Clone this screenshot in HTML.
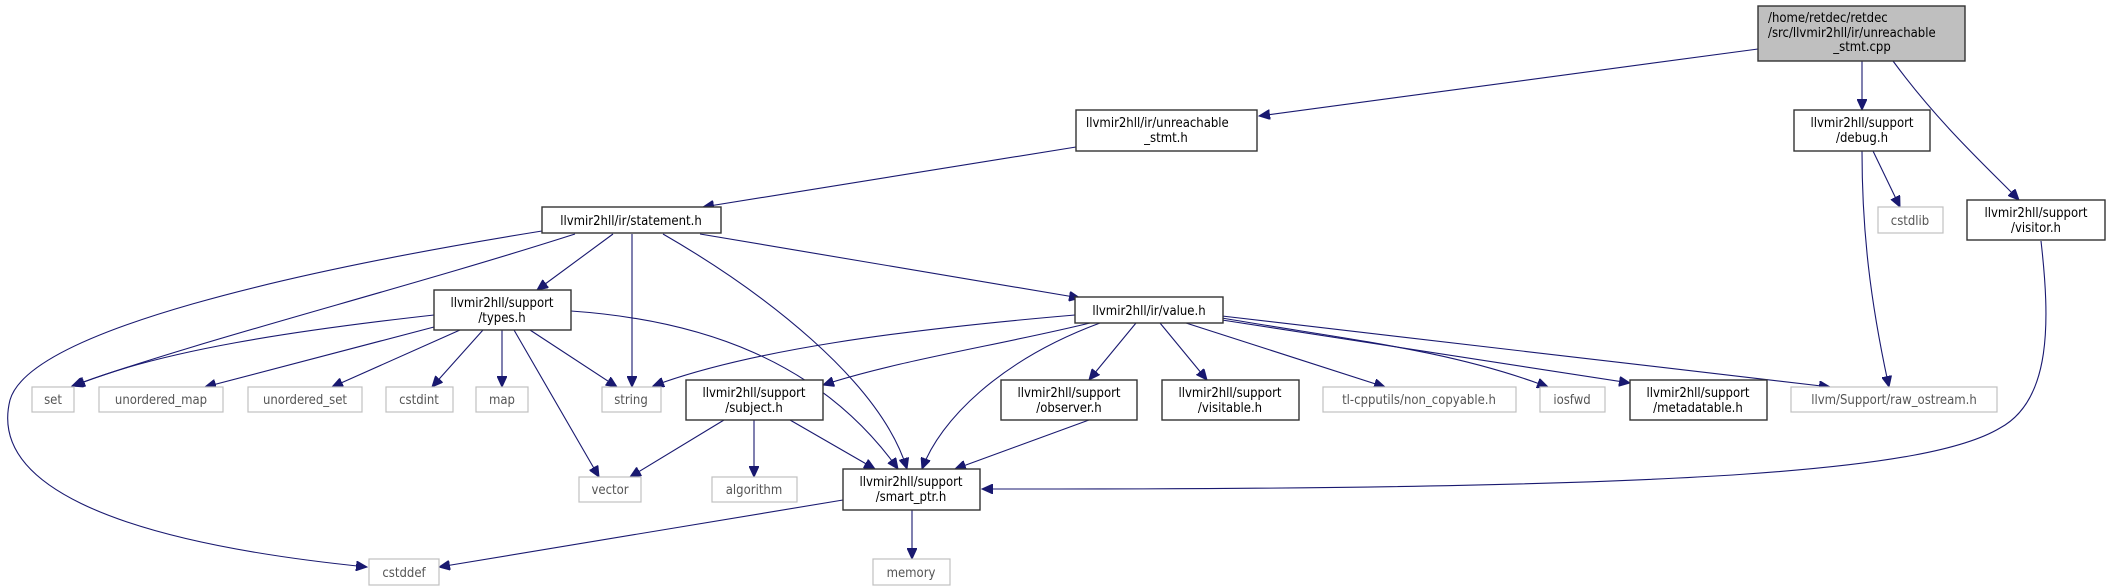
<!DOCTYPE html>
<html><head><meta charset="utf-8"><style>
html,body{margin:0;padding:0;background:#fff;}
svg{display:block;}
text{font-family:"DejaVu Sans Condensed","DejaVu Sans","Liberation Sans",sans-serif;font-size:13px;fill:#000;}
.lf text{fill:#555;}
.n{fill:#fff;stroke:#333;stroke-width:1.4;}
.g{fill:#fff;stroke:#c0c0c0;stroke-width:1.2;}
.e{fill:none;stroke:#191970;stroke-width:1.1;marker-end:url(#a);}
</style></head><body>
<svg width="2110" height="588" viewBox="0 0 2110 588" xmlns="http://www.w3.org/2000/svg">
<defs><marker id="a" markerUnits="userSpaceOnUse" markerWidth="12" markerHeight="10" refX="11" refY="5" orient="auto"><path d="M0,0 L11,5 L0,10 z" fill="#191970" stroke="#191970"/></marker></defs>

<!-- edges -->
<path class="e" d="M1758,49 L1259,116"/>
<path class="e" d="M1862,61 L1862,110"/>
<path class="e" d="M1893,61 C1940,125 1990,170 2019,200"/>
<path class="e" d="M1076,147 L703,207"/>
<path class="e" d="M1873,151 L1900,207"/>
<path class="e" d="M1862,151 C1862,230 1870,300 1889,387"/>
<path class="e" d="M2041,241 C2050,320 2052,400 2000,428 C1930,470 1700,489 1055,489 L982,489"/>
<path class="e" d="M542,231 C300,270 30,330 10,400 C-10,480 100,540 367,567"/>
<path class="e" d="M575,234 C400,290 200,340 72,386"/>
<path class="e" d="M613,234 L537,290"/>
<path class="e" d="M632,234 L632,387"/>
<path class="e" d="M663,234 C760,290 880,380 907,469"/>
<path class="e" d="M700,234 L1080,298"/>
<path class="e" d="M434,315 C300,330 160,350 74,386"/>
<path class="e" d="M434,327 L205,387"/>
<path class="e" d="M460,330 L332,387"/>
<path class="e" d="M483,330 L432,387"/>
<path class="e" d="M502,330 L502,387"/>
<path class="e" d="M514,330 L599,477"/>
<path class="e" d="M530,330 L617,387"/>
<path class="e" d="M571,311 C700,320 820,360 898,469"/>
<path class="e" d="M1075,315 C900,330 750,350 653,386"/>
<path class="e" d="M1090,323 C1000,345 900,360 823,385"/>
<path class="e" d="M1100,323 C1000,360 940,420 922,469"/>
<path class="e" d="M1136,323 L1089,380"/>
<path class="e" d="M1160,323 L1207,380"/>
<path class="e" d="M1186,323 L1385,387"/>
<path class="e" d="M1222,318 C1350,340 1450,350 1548,387"/>
<path class="e" d="M1222,320 L1630,383"/>
<path class="e" d="M1222,316 L1830,387"/>
<path class="e" d="M724,420 L630,477"/>
<path class="e" d="M754,420 L754,477"/>
<path class="e" d="M790,420 L875,469"/>
<path class="e" d="M1089,420 L955,469"/>
<path class="e" d="M843,500 L439,567"/>
<path class="e" d="M912,510 L912,559"/>

<!-- main node -->
<rect x="1758" y="6" width="207" height="55" fill="#bfbfbf" stroke="#333" stroke-width="1.4"/>
<text x="1768" y="22">/home/retdec/retdec</text>
<text x="1768" y="37">/src/llvmir2hll/ir/unreachable</text>
<text x="1862" y="51" text-anchor="middle">_stmt.cpp</text>

<!-- documented nodes -->
<rect class="n" x="1076" y="110" width="181" height="41"/>
<text x="1086" y="127">llvmir2hll/ir/unreachable</text>
<text x="1166" y="142" text-anchor="middle">_stmt.h</text>

<rect class="n" x="1794" y="110" width="136" height="41"/>
<text x="1862" y="127" text-anchor="middle">llvmir2hll/support</text>
<text x="1862" y="142" text-anchor="middle">/debug.h</text>

<rect class="n" x="1967" y="200" width="138" height="40"/>
<text x="2036" y="217" text-anchor="middle">llvmir2hll/support</text>
<text x="2036" y="232" text-anchor="middle">/visitor.h</text>

<rect class="n" x="542" y="207" width="179" height="26"/>
<text x="631" y="225" text-anchor="middle">llvmir2hll/ir/statement.h</text>

<rect class="n" x="434" y="290" width="137" height="40"/>
<text x="502" y="307" text-anchor="middle">llvmir2hll/support</text>
<text x="502" y="322" text-anchor="middle">/types.h</text>

<rect class="n" x="1075" y="297" width="148" height="26"/>
<text x="1149" y="315" text-anchor="middle">llvmir2hll/ir/value.h</text>

<rect class="n" x="686" y="380" width="137" height="40"/>
<text x="754" y="397" text-anchor="middle">llvmir2hll/support</text>
<text x="754" y="412" text-anchor="middle">/subject.h</text>

<rect class="n" x="1001" y="380" width="136" height="40"/>
<text x="1069" y="397" text-anchor="middle">llvmir2hll/support</text>
<text x="1069" y="412" text-anchor="middle">/observer.h</text>

<rect class="n" x="1162" y="380" width="137" height="40"/>
<text x="1230" y="397" text-anchor="middle">llvmir2hll/support</text>
<text x="1230" y="412" text-anchor="middle">/visitable.h</text>

<rect class="n" x="1630" y="380" width="137" height="40"/>
<text x="1698" y="397" text-anchor="middle">llvmir2hll/support</text>
<text x="1698" y="412" text-anchor="middle">/metadatable.h</text>

<rect class="n" x="843" y="469" width="137" height="41"/>
<text x="911" y="486" text-anchor="middle">llvmir2hll/support</text>
<text x="911" y="501" text-anchor="middle">/smart_ptr.h</text>

<!-- leaf nodes -->
<g class="lf">
<rect class="g" x="1878" y="207" width="65" height="26"/><text x="1910" y="225" text-anchor="middle">cstdlib</text>
<rect class="g" x="32" y="387" width="42" height="25"/><text x="53" y="404" text-anchor="middle">set</text>
<rect class="g" x="99" y="387" width="124" height="25"/><text x="161" y="404" text-anchor="middle">unordered_map</text>
<rect class="g" x="248" y="387" width="114" height="25"/><text x="305" y="404" text-anchor="middle">unordered_set</text>
<rect class="g" x="386" y="387" width="67" height="25"/><text x="419" y="404" text-anchor="middle">cstdint</text>
<rect class="g" x="476" y="387" width="52" height="25"/><text x="502" y="404" text-anchor="middle">map</text>
<rect class="g" x="602" y="387" width="59" height="25"/><text x="631" y="404" text-anchor="middle">string</text>
<rect class="g" x="1323" y="387" width="193" height="25"/><text x="1419" y="404" text-anchor="middle">tl-cpputils/non_copyable.h</text>
<rect class="g" x="1540" y="387" width="65" height="25"/><text x="1572" y="404" text-anchor="middle">iosfwd</text>
<rect class="g" x="1791" y="387" width="206" height="25"/><text x="1894" y="404" text-anchor="middle">llvm/Support/raw_ostream.h</text>
<rect class="g" x="579" y="477" width="62" height="25"/><text x="610" y="494" text-anchor="middle">vector</text>
<rect class="g" x="712" y="477" width="85" height="25"/><text x="754" y="494" text-anchor="middle">algorithm</text>
<rect class="g" x="369" y="559" width="70" height="26"/><text x="404" y="577" text-anchor="middle">cstddef</text>
<rect class="g" x="873" y="559" width="77" height="26"/><text x="911" y="577" text-anchor="middle">memory</text>
</g>
</svg>
</body></html>
